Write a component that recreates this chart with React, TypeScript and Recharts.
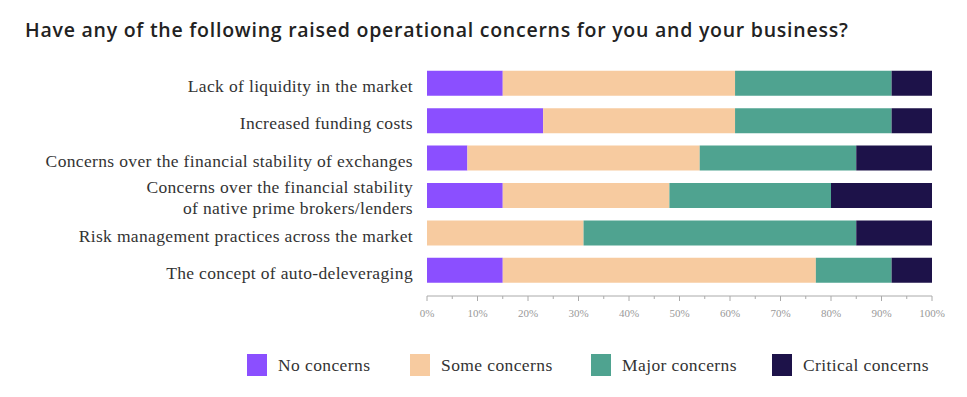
import { BarChart, Bar, XAxis, YAxis } from 'recharts';

const categories = [
  'Lack of liquidity in the market',
  'Increased funding costs',
  'Concerns over the financial stability of exchanges',
  'Concerns over the financial stability\nof native prime brokers/lenders',
  'Risk management practices across the market',
  'The concept of auto-deleveraging',
];
const noConcerns = [15, 23, 8, 15, 0, 15];
const someConcerns = [46, 38, 46, 33, 31, 62];
const majorConcerns = [31, 31, 31, 32, 54, 15];
const criticalConcerns = [8, 8, 15, 20, 15, 8];
const xTicks = [0, 5, 10, 15, 20, 25, 30, 35, 40, 45, 50, 55, 60, 65, 70, 75, 80, 85, 90, 95, 100];

const series = [
  { key: 'none', name: 'No concerns', color: '#8b4fff' },
  { key: 'some', name: 'Some concerns', color: '#f7cba0' },
  { key: 'major', name: 'Major concerns', color: '#4fa390' },
  { key: 'critical', name: 'Critical concerns', color: '#1d1249' },
];
const legendLeft = [247, 410, 591, 772];

const data = categories.map((name, i) => ({
  name,
  none: noConcerns[i],
  some: someConcerns[i],
  major: majorConcerns[i],
  critical: criticalConcerns[i],
}));

const serif = '"Liberation Serif", serif';

const CategoryTick = (props: any) => {
  const { x, y, payload } = props;
  const lines = String(payload.value).split('\n');
  const first = lines.length > 1 ? -2.5 : 8.5;
  return (
    <text x={x} y={y} textAnchor="end" fontFamily={serif} fontSize={17.5} letterSpacing={0.35} fill="#333">
      {lines.map((l, i) => (
        <tspan key={i} x={x} y={y + first + i * 21}>
          {l}
        </tspan>
      ))}
    </text>
  );
};

const PercentTick = (props: any) => {
  const { x, y, payload } = props;
  const v = payload.value as number;
  const axisY = y - 13;
  const major = v % 10 === 0;
  return (
    <g>
      <line x1={x} x2={x} y1={axisY} y2={axisY + (major ? 5 : 3)} stroke="#aaa" />
      {major && (
        <text x={x} y={axisY + 21} textAnchor="middle" fontFamily={serif} fontSize={11} fill="#999">
          {v}%
        </text>
      )}
    </g>
  );
};

export default function App() {
  return (
    <div style={{ position: 'absolute', left: 0, top: 0, width: 967, height: 397, background: '#fff' }}>
      <div
        style={{
          position: 'absolute',
          left: 25,
          top: 16,
          fontFamily: '"Open Sans", sans-serif',
          fontWeight: 600,
          fontSize: 19.5,
          letterSpacing: 0.75,
          color: '#222',
          whiteSpace: 'nowrap',
        }}
      >
        Have any of the following raised operational concerns for you and your business?
      </div>
      <BarChart
        width={967}
        height={397}
        data={data}
        layout="vertical"
        margin={{ top: 64.8, right: 35, left: 0, bottom: 71 }}
      >
        <XAxis
          type="number"
          domain={[0, 100]}
          ticks={xTicks}
          interval={0}
          tickLine={false}
          tickSize={5}
          tickMargin={8}
          axisLine={{ stroke: '#aaa' }}
          tick={<PercentTick />}
          height={30}
        />
        <YAxis
          type="category"
          dataKey="name"
          width={427}
          axisLine={false}
          tickLine={false}
          tickMargin={8}
          interval={0}
          padding={{ top: 0, bottom: 6.8 }}
          tick={<CategoryTick />}
        />
        {series.map((s) => (
          <Bar key={s.key} dataKey={s.key} name={s.name} stackId="a" fill={s.color} barSize={25} isAnimationActive={false} />
        ))}
      </BarChart>
      {series.map((s, i) => (
        <div
          key={s.key}
          style={{ position: 'absolute', left: legendLeft[i], top: 354, display: 'flex', alignItems: 'center', gap: 11 }}
        >
          <div style={{ width: 20, height: 22, background: s.color }} />
          <span style={{ fontFamily: serif, fontSize: 17.5, letterSpacing: 0.4, color: '#333' }}>{s.name}</span>
        </div>
      ))}
    </div>
  );
}
